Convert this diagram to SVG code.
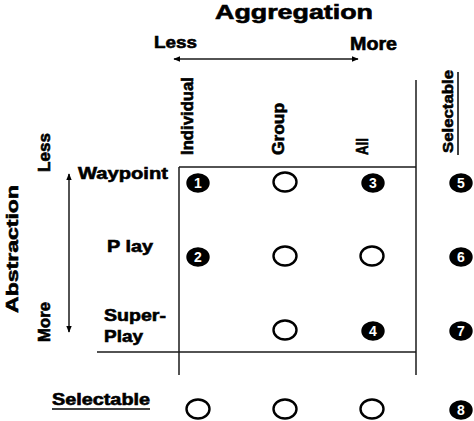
<svg xmlns="http://www.w3.org/2000/svg" width="474" height="421" viewBox="0 0 474 421">
<defs>
<style>
.t{font-family:"Liberation Sans",Arial,sans-serif;font-weight:bold;fill:#000;stroke:#000;stroke-width:0.6}
.ln{stroke:#1a1a1a;stroke-width:1.5;fill:none}
.open{fill:#fff;stroke:#000;stroke-width:2.4}
.fill{fill:#000;stroke:#000;stroke-width:2.4}
.num{font-family:"Liberation Sans",Arial,sans-serif;font-weight:bold;font-size:14px;fill:#fff;text-anchor:middle}
</style>
<marker id="ah" viewBox="0 0 10 10" refX="9" refY="5" markerWidth="7" markerHeight="7" orient="auto-start-reverse" markerUnits="userSpaceOnUse">
<path d="M0,1 L10,5 L0,9 Z" fill="#000"/>
</marker>
</defs>
<rect width="474" height="421" fill="#fff"/>

<g id="titles">
<text class="t" x="215" y="19" font-size="20" textLength="158" lengthAdjust="spacingAndGlyphs">Aggregation</text>
<text class="t" x="154" y="48" font-size="17" textLength="43" lengthAdjust="spacingAndGlyphs">Less</text>
<text class="t" x="350" y="50" font-size="18" textLength="47" lengthAdjust="spacingAndGlyphs">More</text>
<text class="t" font-size="17" textLength="128" lengthAdjust="spacingAndGlyphs" transform="translate(18,313) rotate(-90)">Abstraction</text>
<text class="t" font-size="17" textLength="39" lengthAdjust="spacingAndGlyphs" transform="translate(50,172) rotate(-90)">Less</text>
<text class="t" font-size="17" textLength="40" lengthAdjust="spacingAndGlyphs" transform="translate(50,342) rotate(-90)">More</text>
</g>

<g id="connectors">
<line class="ln" x1="174" y1="59" x2="358" y2="59" marker-start="url(#ah)" marker-end="url(#ah)"/>
<line class="ln" x1="69" y1="174" x2="69" y2="332" marker-start="url(#ah)" marker-end="url(#ah)"/>
</g>

<g id="grid">
<line class="ln" x1="179" y1="167" x2="179" y2="375"/>
<line class="ln" x1="416" y1="80" x2="416" y2="375"/>
<line class="ln" x1="179" y1="167" x2="416" y2="167"/>
<line class="ln" x1="97" y1="352" x2="416" y2="352"/>
</g>

<g id="col-labels">
<text class="t" font-size="16" textLength="78" lengthAdjust="spacingAndGlyphs" transform="translate(193,155) rotate(-90)">Individual</text>
<text class="t" font-size="16" textLength="52" lengthAdjust="spacingAndGlyphs" transform="translate(284,155) rotate(-90)">Group</text>
<text class="t" font-size="16" textLength="17" lengthAdjust="spacingAndGlyphs" transform="translate(368,155) rotate(-90)">All</text>
<text class="t" font-size="15" textLength="83" lengthAdjust="spacingAndGlyphs" transform="translate(453,153) rotate(-90)">Selectable</text>
<line x1="458" y1="72" x2="458" y2="155" stroke="#000" stroke-width="1.5"/>
</g>

<g id="row-labels">
<text class="t" x="78" y="179" font-size="17" textLength="90" lengthAdjust="spacingAndGlyphs">Waypoint</text>
<text class="t" x="107" y="252" font-size="17" textLength="46" lengthAdjust="spacingAndGlyphs">P lay</text>
<text class="t" x="104" y="321" font-size="17" textLength="62" lengthAdjust="spacingAndGlyphs">Super-</text>
<text class="t" x="104" y="342" font-size="17" textLength="39" lengthAdjust="spacingAndGlyphs">Play</text>
<text class="t" x="52" y="405" font-size="16" textLength="98" lengthAdjust="spacingAndGlyphs">Selectable</text>
<line x1="52" y1="409" x2="150" y2="409" stroke="#000" stroke-width="1.5"/>
</g>

<g id="n1"><ellipse class="fill" cx="198" cy="183" rx="10.5" ry="8.5"/><text class="num" x="198" y="188">1</text></g>
<g id="c12"><ellipse class="open" cx="285" cy="182" rx="11.5" ry="9.5"/></g>
<g id="n3"><ellipse class="fill" cx="373" cy="183" rx="10.5" ry="8.5"/><text class="num" x="373" y="188">3</text></g>
<g id="n5"><ellipse class="fill" cx="461" cy="183" rx="10.5" ry="8.5"/><text class="num" x="461" y="188">5</text></g>

<g id="n2"><ellipse class="fill" cx="198" cy="257" rx="10.5" ry="8.5"/><text class="num" x="198" y="262">2</text></g>
<g id="c22"><ellipse class="open" cx="285" cy="256" rx="11.5" ry="9.5"/></g>
<g id="c23"><ellipse class="open" cx="372" cy="256" rx="11.5" ry="9.5"/></g>
<g id="n6"><ellipse class="fill" cx="461" cy="257" rx="10.5" ry="8.5"/><text class="num" x="461" y="262">6</text></g>

<g id="c32"><ellipse class="open" cx="285" cy="330" rx="11.5" ry="9.5"/></g>
<g id="n4"><ellipse class="fill" cx="373" cy="331" rx="10.5" ry="8.5"/><text class="num" x="373" y="336">4</text></g>
<g id="n7"><ellipse class="fill" cx="461" cy="331" rx="10.5" ry="8.5"/><text class="num" x="461" y="336">7</text></g>

<g id="c41"><ellipse class="open" cx="198" cy="409" rx="11.5" ry="9.5"/></g>
<g id="c42"><ellipse class="open" cx="285" cy="409" rx="11.5" ry="9.5"/></g>
<g id="c43"><ellipse class="open" cx="372" cy="409" rx="11.5" ry="9.5"/></g>
<g id="n8"><ellipse class="fill" cx="461" cy="410" rx="10.5" ry="8.5"/><text class="num" x="461" y="415">8</text></g>
</svg>
